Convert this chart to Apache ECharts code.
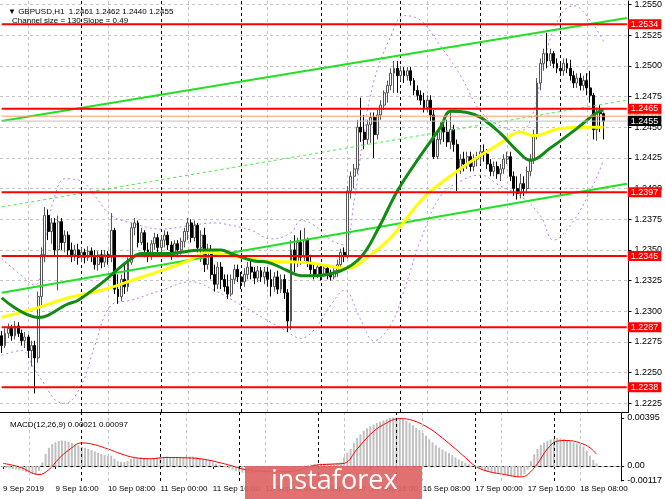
<!DOCTYPE html>
<html><head><meta charset="utf-8">
<script src="https://cdn.jsdelivr.net/npm/echarts@6/dist/echarts.min.js"></script>
<style>html,body{margin:0;padding:0;background:#fff}#c{width:665px;height:499px}</style>
</head><body><div id="c"></div>
<script>
const days = ['9 Sep','10 Sep','11 Sep','12 Sep','13 Sep','16 Sep','17 Sep','18 Sep'];
// candles: [open, high, low, close]
const sep09 = [[1.2280,1.2284,1.2266,1.2272],[1.2272,1.2286,1.2270,1.2282],[1.2282,1.2290,1.2278,1.2286],[1.2286,1.2289,1.2276,1.2280],[1.2280,1.2292,1.2277,1.2288],[1.2288,1.2291,1.2279,1.2282],[1.2282,1.2285,1.2272,1.2276],[1.2276,1.2283,1.2270,1.2279],[1.2279,1.2281,1.2262,1.2268],[1.2268,1.2276,1.2255,1.2272],[1.2272,1.2276,1.2233,1.2262],[1.2262,1.2316,1.2258,1.2312],[1.2312,1.2352,1.2305,1.2346],[1.2346,1.2385,1.2340,1.2378],[1.2378,1.2383,1.2358,1.2365],[1.2365,1.2376,1.2355,1.2372],[1.2372,1.2376,1.2345,1.2350],[1.2350,1.2378,1.2317,1.2373],[1.2373,1.2376,1.2350,1.2356],[1.2356,1.2366,1.2348,1.2362],[1.2362,1.2365,1.2344,1.2350],[1.2350,1.2356,1.2340,1.2346],[1.2346,1.2354,1.2341,1.2350],[1.2350,1.2355,1.2338,1.2344]];
const sep10 = [[1.2344,1.2352,1.2340,1.2348],[1.2348,1.2351,1.2339,1.2344],[1.2344,1.2353,1.2341,1.2349],[1.2349,1.2352,1.2340,1.2345],[1.2345,1.2350,1.2334,1.2338],[1.2338,1.2349,1.2333,1.2346],[1.2346,1.2350,1.2335,1.2340],[1.2340,1.2350,1.2336,1.2346],[1.2346,1.2349,1.2338,1.2344],[1.2344,1.2380,1.2340,1.2366],[1.2366,1.2368,1.2314,1.2318],[1.2318,1.2330,1.2306,1.2312],[1.2312,1.2330,1.2308,1.2326],[1.2326,1.2338,1.2314,1.2320],[1.2320,1.2344,1.2316,1.2340],[1.2340,1.2372,1.2338,1.2368],[1.2368,1.2376,1.2362,1.2372],[1.2372,1.2374,1.2352,1.2356],[1.2356,1.2368,1.2354,1.2364],[1.2364,1.2366,1.2344,1.2350],[1.2350,1.2356,1.2340,1.2346],[1.2346,1.2358,1.2342,1.2355],[1.2355,1.2364,1.2350,1.2360],[1.2360,1.2363,1.2346,1.2352]];
const sep11 = [[1.2352,1.2362,1.2345,1.2358],[1.2358,1.2366,1.2352,1.2362],[1.2362,1.2365,1.2350,1.2354],[1.2354,1.2357,1.2342,1.2348],[1.2348,1.2358,1.2345,1.2355],[1.2355,1.2358,1.2344,1.2350],[1.2350,1.2360,1.2346,1.2357],[1.2357,1.2368,1.2352,1.2365],[1.2365,1.2376,1.2358,1.2372],[1.2372,1.2375,1.2356,1.2360],[1.2360,1.2374,1.2357,1.2370],[1.2370,1.2372,1.2348,1.2352],[1.2352,1.2366,1.2340,1.2362],[1.2362,1.2368,1.2332,1.2338],[1.2338,1.2355,1.2334,1.2350],[1.2350,1.2354,1.2326,1.2330],[1.2330,1.2338,1.2316,1.2322],[1.2322,1.2340,1.2318,1.2336],[1.2336,1.2340,1.2318,1.2326],[1.2326,1.2330,1.2316,1.2320],[1.2320,1.2330,1.2310,1.2314],[1.2314,1.2330,1.2312,1.2326],[1.2326,1.2338,1.2322,1.2334],[1.2334,1.2338,1.2324,1.2328]];
const sep12 = [[1.2328,1.2332,1.2318,1.2324],[1.2324,1.2335,1.2320,1.2330],[1.2330,1.2340,1.2326,1.2336],[1.2336,1.2342,1.2326,1.2332],[1.2332,1.2336,1.2322,1.2327],[1.2327,1.2337,1.2324,1.2333],[1.2333,1.2336,1.2324,1.2328],[1.2328,1.2336,1.2322,1.2332],[1.2332,1.2336,1.2320,1.2326],[1.2326,1.2334,1.2312,1.2320],[1.2320,1.2332,1.2316,1.2328],[1.2328,1.2333,1.2314,1.2318],[1.2318,1.2330,1.2315,1.2326],[1.2326,1.2330,1.2310,1.2315],[1.2315,1.2318,1.2283,1.2292],[1.2292,1.2358,1.2285,1.2350],[1.2350,1.2362,1.2332,1.2340],[1.2340,1.2360,1.2336,1.2356],[1.2356,1.2366,1.2338,1.2344],[1.2344,1.2368,1.2340,1.2358],[1.2358,1.2360,1.2336,1.2340],[1.2340,1.2346,1.2330,1.2334],[1.2334,1.2338,1.2326,1.2330],[1.2330,1.2339,1.2327,1.2336]];
const sep13 = [[1.2336,1.2338,1.2325,1.2330],[1.2330,1.2338,1.2328,1.2335],[1.2335,1.2337,1.2326,1.2330],[1.2330,1.2334,1.2325,1.2328],[1.2328,1.2335,1.2326,1.2333],[1.2333,1.2342,1.2328,1.2338],[1.2338,1.2351,1.2336,1.2348],[1.2348,1.2352,1.2340,1.2345],[1.2345,1.2402,1.2343,1.2398],[1.2398,1.2414,1.2392,1.2410],[1.2410,1.2420,1.2400,1.2416],[1.2416,1.2456,1.2412,1.2450],[1.2450,1.2474,1.2438,1.2446],[1.2446,1.2460,1.2432,1.2440],[1.2440,1.2456,1.2436,1.2452],[1.2452,1.2462,1.2437,1.2458],[1.2458,1.2462,1.2425,1.2444],[1.2444,1.2464,1.2440,1.2460],[1.2460,1.2472,1.2456,1.2468],[1.2468,1.2480,1.2464,1.2478],[1.2478,1.2488,1.2470,1.2484],[1.2484,1.2498,1.2480,1.2494],[1.2494,1.2504,1.2478,1.2498],[1.2498,1.2504,1.2478,1.2492]];
const sep16 = [[1.2492,1.2500,1.2488,1.2496],[1.2496,1.2499,1.2486,1.2492],[1.2492,1.2499,1.2488,1.2496],[1.2496,1.2499,1.2484,1.2488],[1.2488,1.2490,1.2476,1.2480],[1.2480,1.2484,1.2472,1.2476],[1.2476,1.2480,1.2468,1.2472],[1.2472,1.2478,1.2462,1.2466],[1.2466,1.2476,1.2462,1.2472],[1.2472,1.2476,1.2455,1.2460],[1.2460,1.2464,1.2424,1.2426],[1.2426,1.2446,1.2424,1.2440],[1.2440,1.2454,1.2436,1.2450],[1.2450,1.2454,1.2438,1.2446],[1.2446,1.2456,1.2434,1.2438],[1.2438,1.2462,1.2432,1.2448],[1.2448,1.2452,1.2430,1.2436],[1.2436,1.2440,1.2398,1.2416],[1.2416,1.2428,1.2412,1.2424],[1.2424,1.2430,1.2414,1.2420],[1.2420,1.2430,1.2416,1.2426],[1.2426,1.2430,1.2414,1.2418],[1.2418,1.2428,1.2414,1.2424],[1.2424,1.2430,1.2418,1.2426]];
const sep17 = [[1.2426,1.2434,1.2420,1.2430],[1.2430,1.2436,1.2422,1.2428],[1.2428,1.2432,1.2416,1.2420],[1.2420,1.2424,1.2410,1.2414],[1.2414,1.2422,1.2410,1.2418],[1.2418,1.2422,1.2408,1.2412],[1.2412,1.2420,1.2406,1.2416],[1.2416,1.2428,1.2412,1.2424],[1.2424,1.2430,1.2420,1.2426],[1.2426,1.2430,1.2406,1.2410],[1.2410,1.2414,1.2394,1.2400],[1.2400,1.2410,1.2391,1.2396],[1.2396,1.2412,1.2392,1.2404],[1.2404,1.2410,1.2394,1.2400],[1.2400,1.2418,1.2396,1.2414],[1.2414,1.2428,1.2410,1.2424],[1.2424,1.2448,1.2420,1.2444],[1.2444,1.2490,1.2440,1.2486],[1.2486,1.2506,1.2480,1.2502],[1.2502,1.2514,1.2496,1.2510],[1.2510,1.2527,1.2498,1.2504],[1.2504,1.2514,1.2500,1.2510],[1.2510,1.2512,1.2498,1.2502],[1.2502,1.2506,1.2494,1.2498]];
const sep18 = [[1.2498,1.2502,1.2494,1.2496],[1.2496,1.2506,1.2492,1.2502],[1.2502,1.2506,1.2494,1.2498],[1.2498,1.2505,1.2488,1.2492],[1.2492,1.2496,1.2482,1.2486],[1.2486,1.2494,1.2482,1.2490],[1.2490,1.2494,1.2480,1.2484],[1.2484,1.2492,1.2480,1.2488],[1.2488,1.2494,1.2476,1.2482],[1.2482,1.2496,1.2470,1.2476],[1.2476,1.2478,1.2440,1.2448],[1.2448,1.2466,1.2439,1.2462],[1.2462,1.2468,1.2446,1.2461],[1.2461,1.2462,1.2440,1.2455]];

// moving averages sampled [bar index, price]
const maGreen = [[0,1.2311],[10.6,1.2295],[19.6,1.2306],[22.6,1.2309],[31,1.2325],[34,1.2332],[39.4,1.2343],[42.4,1.2347],[49.6,1.2347],[59.5,1.2350],[65.5,1.2350],[69.4,1.2347],[76,1.2341],[79.6,1.2340],[86,1.2333],[89.5,1.2329],[94,1.2329],[102.4,1.2333],[107.5,1.2344],[112.6,1.2366],[118.6,1.2398],[125.5,1.2427],[131.5,1.2450],[135.4,1.2463],[139.6,1.2462],[143.5,1.2458],[149.5,1.2445],[154.6,1.2431],[159.1,1.2423],[165.4,1.2433],[172.6,1.2449],[178.6,1.2462],[181,1.2464]];
const maYellow = [[0,1.2295],[10.6,1.2303],[19.6,1.2311],[29.5,1.2317],[39.4,1.2325],[49.6,1.2335],[55.6,1.2341],[61.6,1.2348],[69.4,1.2345],[79.6,1.2341],[89.5,1.2340],[94,1.2339],[103.6,1.2335],[109.6,1.2344],[116.5,1.2360],[125.5,1.2390],[128.5,1.2398],[139.6,1.2420],[149.5,1.2437],[155.5,1.2446],[160,1.2443],[167.5,1.2449],[175.6,1.2450],[181,1.2450]];
const bbUpper = [[0,1.2343],[5.5,1.2329],[10,1.2321],[13,1.2358],[16,1.2394],[19,1.2408],[23.5,1.2406],[28,1.2394],[32.5,1.2378],[38.5,1.2372],[47.5,1.2367],[56.5,1.2370],[64,1.2372],[68.5,1.2370],[74.5,1.2366],[80.5,1.2359],[86.5,1.2364],[89.5,1.2374],[94,1.2370],[98.5,1.2358],[103,1.2354],[106,1.2390],[109,1.2447],[112,1.2488],[116.5,1.2524],[121,1.2541],[125.5,1.2537],[131.5,1.2516],[137.5,1.2492],[143.5,1.2463],[149.5,1.2451],[155.5,1.2447],[160,1.2463],[163,1.2504],[167.5,1.2541],[172,1.2549],[176.5,1.2537],[181,1.2520]];
const bbLower = [[0,1.2264],[5.5,1.2268],[10,1.2252],[13,1.2240],[16,1.2228],[19,1.2225],[23.5,1.2240],[28,1.2272],[32.5,1.2305],[38.5,1.2309],[47.5,1.2317],[56.5,1.2324],[64,1.2317],[71.5,1.2305],[79,1.2294],[85,1.2285],[89.5,1.2278],[94,1.2285],[98.5,1.2305],[103,1.2317],[107.5,1.2293],[112,1.2276],[116.5,1.2289],[121,1.2317],[125.5,1.2358],[131.5,1.2394],[137.5,1.2406],[143.5,1.2411],[149.5,1.2402],[155.5,1.2394],[161.5,1.2378],[166,1.2358],[170.5,1.2370],[176.5,1.2398],[181,1.2423]];

// channel lines: [bar index, price] end points
const chUpper = [[0,1.2455],[188,1.2539]];
const chMiddle = [[0,1.2385],[188,1.2472]];
const chLower = [[0,1.2315],[188,1.2404]];

const levels = [1.2534,1.2465,1.2397,1.2345,1.2287,1.2238];
const askLine = 1.2459;
const bidLine = 1.2455;
const yTicks = [1.2225,1.2250,1.2275,1.2300,1.2325,1.2350,1.2375,1.2400,1.2425,1.2450,1.2475,1.2500,1.2525,1.2550];

// MACD(12,26,9) main values per bar (histogram)
const macdHist = [-0.00010,-0.00015,-0.00020,-0.00025,-0.00030,-0.00035,-0.00040,-0.00048,-0.00056,-0.00064,-0.00075,
-0.00040,0.00030,0.00100,0.00150,0.00180,0.00195,0.00205,0.00210,0.00208,0.00200,
0.00190,0.00180,0.00170,0.00160,0.00150,0.00140,0.00130,0.00118,0.00108,0.00098,
0.00090,0.00082,0.00085,0.00060,0.00040,0.00035,0.00032,0.00040,0.00058,0.00068,
0.00068,0.00070,0.00066,0.00062,0.00062,0.00066,0.00070,0.00072,0.00076,0.00078,
0.00074,0.00072,0.00070,0.00070,0.00072,0.00076,0.00078,0.00078,0.00072,0.00066,
0.00056,0.00050,0.00040,0.00030,0.00020,0.00010,0.00000,-0.00010,-0.00020,-0.00030,
-0.00040,-0.00048,-0.00054,-0.00058,-0.00058,-0.00056,-0.00054,-0.00052,-0.00050,-0.00050,
-0.00052,-0.00050,-0.00052,-0.00050,-0.00054,-0.00070,-0.00050,-0.00036,-0.00024,-0.00016,
-0.00006,0.00004,0.00008,0.00012,0.00016,0.00018,0.00020,0.00020,0.00020,0.00020,
0.00022,0.00026,0.00030,0.00070,0.00110,0.00140,0.00190,0.00230,0.00260,0.00290,
0.00310,0.00325,0.00340,0.00355,0.00365,0.00375,0.00385,0.00395,0.00400,0.00400,
0.00395,0.00385,0.00372,0.00355,0.00335,0.00315,0.00295,0.00272,0.00250,0.00220,
0.00195,0.00172,0.00152,0.00135,0.00120,0.00106,0.00088,0.00070,0.00054,0.00040,
0.00026,0.00014,0.00004,-0.00012,-0.00024,-0.00034,-0.00044,-0.00050,-0.00056,-0.00060,
-0.00060,-0.00062,-0.00068,-0.00078,-0.00086,-0.00090,-0.00090,-0.00082,-0.00064,-0.00030,
0.00040,0.00096,0.00140,0.00172,0.00192,0.00208,0.00218,0.00226,0.00230,0.00228,
0.00222,0.00214,0.00204,0.00194,0.00184,0.00172,0.00158,0.00125,0.00085,0.00050,0.00021];
// MACD signal sampled [bar index, value]
const macdSignal = [[0,0.00022],[5,-0.00008],[11,-0.00070],[14,-0.00030],[17,0.00060],[20,0.00130],[24,0.00190],[28,0.00175],[32,0.00140],[36,0.00100],[40,0.00070],[45,0.00060],[50,0.00070],[55,0.00068],[60,0.00060],[65,0.00035],[70,0.00000],[74,-0.00030],[80,-0.00045],[86,-0.00048],[90,-0.00035],[95,0.00005],[100,0.00015],[104,0.00022],[108,0.00140],[112,0.00260],[116,0.00340],[121,0.00390],[125,0.00375],[130,0.00310],[134,0.00230],[138,0.00140],[141,0.00070],[144,0.00000],[148,-0.00045],[153,-0.00070],[158,-0.00090],[160,-0.00070],[163,0.00020],[166,0.00140],[169,0.00205],[172,0.00210],[176,0.00190],[179,0.00150],[181,0.00097]];
const macdTicks = [-0.00117, 0, 0.00395];

// ---- build ----
const rows = [].concat(sep09, sep10, sep11, sep12, sep13, sep16, sep17, sep18);
const cats = [];
days.forEach(d => { for (let h = 0; h < 24; h++) cats.push(d + ' ' + String(h).padStart(2,'0') + ':00'); });
cats.length = 189;
const LAST = cats.length - 1;
const candleData = rows.map(r => [r[0], r[3], r[2], r[1]]);
const sepIdx = [], gridIdx = [];
for (let i = 0; i < cats.length; i++) { if (cats[i].endsWith(' 00:00') && i > 0) sepIdx.push(i); if (cats[i].endsWith(' 08:00')) gridIdx.push(i); }

const FONT = 'Liberation Sans';
const vLines = [].concat(
  sepIdx.map(i => ({xAxis: i, lineStyle: {color: '#000', type: [3,3], width: 1}})),
  gridIdx.map(i => ({xAxis: i, lineStyle: {color: '#c4c4c4', type: [3,3], width: 1}}))
);

function hLine(v, color, width, labelBg, z) {
  return {type: 'line', xAxisIndex: 0, yAxisIndex: 0, data: [[0, v], [LAST, v]], symbol: 'none', z: z,
    silent: true, lineStyle: {color: color, width: width},
    endLabel: labelBg ? {show: true, formatter: v.toFixed(4), color: '#fff', backgroundColor: labelBg,
      padding: [1, 3, 0, 3], fontSize: 9, fontFamily: FONT, distance: 1} : {show: false}};
}

const chart = echarts.init(document.getElementById('c'));
const series = [
  {type: 'candlestick', xAxisIndex: 0, yAxisIndex: 0, data: candleData, barWidth: 2.4, z: 3,
   itemStyle: {color: '#ffffff', color0: '#000000', borderColor: '#555555', borderColor0: '#000000', borderWidth: 1},
   markLine: {silent: true, symbol: 'none', animation: false, z: 1, label: {show: false}, data: vLines}},
  {type: 'line', xAxisIndex: 0, yAxisIndex: 0, data: bbUpper, smooth: 0.4, symbol: 'none', z: 2,
   lineStyle: {color: '#c07cf0', width: 1, type: [2,3]}},
  {type: 'line', xAxisIndex: 0, yAxisIndex: 0, data: bbLower, smooth: 0.4, symbol: 'none', z: 2,
   lineStyle: {color: '#c07cf0', width: 1, type: [2,3]}},
  {type: 'line', xAxisIndex: 0, yAxisIndex: 0, data: chMiddle, symbol: 'none', z: 4,
   lineStyle: {color: '#44ee44', width: 1, type: [3,3]}},
  {type: 'line', xAxisIndex: 0, yAxisIndex: 0, data: chUpper, symbol: 'none', z: 4,
   lineStyle: {color: '#22e022', width: 2}},
  {type: 'line', xAxisIndex: 0, yAxisIndex: 0, data: chLower, symbol: 'none', z: 4,
   lineStyle: {color: '#22e022', width: 2}},
  {type: 'line', xAxisIndex: 0, yAxisIndex: 0, data: maYellow, smooth: 0.4, symbol: 'none', z: 5,
   lineStyle: {color: '#ffff00', width: 3}},
  {type: 'line', xAxisIndex: 0, yAxisIndex: 0, data: maGreen, smooth: 0.4, symbol: 'none', z: 6,
   lineStyle: {color: '#138a13', width: 3}},
  hLine(askLine, '#ff9a6a', 1, '#ff9a6a', 7),
  hLine(bidLine, '#c0c0c0', 1, '#000000', 8)
].concat(levels.map(v => hLine(v, '#ff0000', 2, '#ff0000', 9))).concat([
  {type: 'bar', xAxisIndex: 1, yAxisIndex: 1, data: macdHist, barWidth: 2, itemStyle: {color: '#c0c0c0'}, z: 2,
   markLine: {silent: true, symbol: 'none', animation: false, label: {show: false},
     data: vLines.concat([{yAxis: 0, lineStyle: {color: '#c4c4c4', type: [3,3], width: 1}}])}},
  {type: 'line', xAxisIndex: 1, yAxisIndex: 1, data: macdSignal, smooth: 0.4, symbol: 'none', z: 3,
   lineStyle: {color: '#ff0000', width: 1}}
]);

const option = {
  animation: false,
  backgroundColor: '#ffffff',
  textStyle: {fontFamily: FONT},
  title: [
    {text: '\u25BC GBPUSD,H1  1.2461 1.2462 1.2440 1.2455', left: 3, top: 3, textStyle: {fontSize: 8, fontWeight: 'normal', color: '#000', fontFamily: FONT}},
    {text: 'Channel size = 130 Slope = 0.49', left: 7, top: 12, textStyle: {fontSize: 8, fontWeight: 'normal', color: '#000', fontFamily: FONT}},
    {text: 'MACD(12,26,9) 0.00021 0.00097', left: 5, top: 416, textStyle: {fontSize: 8, fontWeight: 'normal', color: '#000', fontFamily: FONT}}
  ],
  grid: [
    {left: 0, top: 0, width: 630, height: 412},
    {left: 0, top: 413, width: 630, height: 68}
  ],
  xAxis: [
    {type: 'category', gridIndex: 0, data: cats, boundaryGap: true,
     axisLabel: {show: false}, axisTick: {show: false},
     axisLine: {show: true, lineStyle: {color: '#000', width: 1}}, splitLine: {show: false}},
    {type: 'category', gridIndex: 1, data: cats, boundaryGap: true,
     axisLabel: {show: true, interval: (i) => i % 16 === 0, align: 'left', fontSize: 8, color: '#000', margin: 4, fontFamily: FONT,
       formatter: (v, i) => i === 0 ? '9 Sep 2019' : v},
     axisTick: {show: true, interval: (i) => i % 16 === 0, alignWithLabel: true, length: 3, lineStyle: {color: '#000'}},
     axisLine: {show: true, lineStyle: {color: '#000', width: 1}}, splitLine: {show: false}}
  ],
  yAxis: [
    {type: 'value', gridIndex: 0, position: 'right', min: 1.221789, max: 1.255285, scale: true,
     axisLine: {show: true, lineStyle: {color: '#000'}},
     axisTick: {show: true, length: 3, customValues: yTicks, lineStyle: {color: '#000'}},
     axisLabel: {customValues: yTicks, formatter: v => v.toFixed(4), fontSize: 9, color: '#000', margin: 6, fontFamily: FONT},
     splitLine: {show: true, lineStyle: {color: '#c4c4c4', type: [3,3], width: 1}}},
    {type: 'value', gridIndex: 1, position: 'right', min: -0.001234, max: 0.004362, scale: true,
     axisLine: {show: true, lineStyle: {color: '#000'}},
     axisTick: {show: true, length: 3, customValues: macdTicks, lineStyle: {color: '#000'}},
     axisLabel: {customValues: macdTicks, formatter: v => v === 0 ? '0.00' : v.toFixed(5), fontSize: 9, color: '#000', margin: 6, fontFamily: FONT},
     splitLine: {show: false}}
  ],
  graphic: [
    {type: 'rect', left: 245, top: 466, z: 100, shape: {width: 177, height: 33}, style: {fill: 'rgba(222,100,100,0.92)'}},
    {type: 'text', left: 271, top: 468, z: 101, style: {text: 'instaforex', fill: '#ffffff', font: '27px "Open Sans"'}}
  ],
  series: series
};
chart.setOption(option);
</script></body></html>
